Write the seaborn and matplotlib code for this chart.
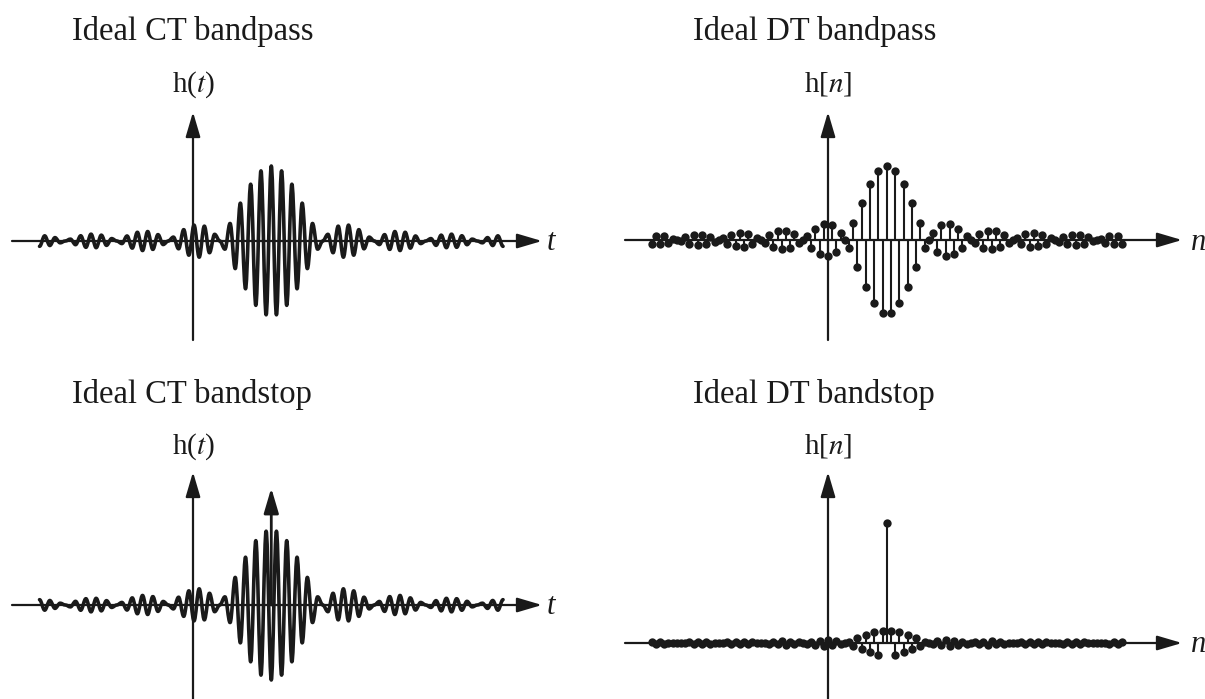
import numpy as np
import matplotlib
matplotlib.use("Agg")
import matplotlib.pyplot as plt
from matplotlib.path import Path
from matplotlib.patches import PathPatch
import seaborn as sns

# %%
# bandpass impulse response: centre sample first,
# then the samples to the right (the plot is symmetric about the centre)
bp_right = [1.000, -0.984, 0.935, -0.858, 0.757, -0.637, 0.505, -0.368, 0.234, -0.109,
            0.000, 0.089, -0.156, 0.198, -0.216, 0.212, -0.189, 0.151, -0.104, 0.052,
            0.000, -0.047, 0.085, -0.112, 0.126, -0.127, 0.116, -0.095, 0.067, -0.034,
            0.000, 0.032, -0.058, 0.078, -0.089, 0.091, -0.084, 0.070, -0.049, 0.025,
            0.000, -0.024, 0.045, -0.060, 0.069, -0.071, 0.066, -0.055, 0.039, -0.020,
            0.000, 0.019, -0.036, 0.049, -0.056, 0.058, -0.054]

dt_center = 14          # delay of the DT response (samples)
dt_values = bp_right[:0:-1] + bp_right
dt_n = np.arange(len(dt_values)) - (len(bp_right) - 1) + dt_center
dt_bs_impulse = 10.6    # bandstop = impulse - bandpass (own scale)

# CT response: one extremum per half carrier period
ct_half = 45
ct_center = 7.6         # delay in carrier periods
ct_peaks = bp_right[ct_half:0:-1] + bp_right[:ct_half + 1]
ct_t = ct_center + 0.5 * np.arange(-ct_half, ct_half + 1)
ct_bs_impulse = 1.56

titles = ["Ideal CT bandpass", "Ideal DT bandpass", "Ideal CT bandstop", "Ideal DT bandstop"]

# %%
sns.set_theme(style="white")
plt.rcParams["font.family"] = ["Liberation Serif", "DejaVu Serif"]
plt.rcParams["mathtext.fontset"] = "stix"

W, H = 1205, 699
fig = plt.figure(figsize=(W / 100, H / 100), dpi=100)
fig.patch.set_facecolor("white")


def panel(box, x0, xs, y0, ys):
    l, t, r, b = box
    ax = fig.add_axes([l / W, 1 - b / H, (r - l) / W, (b - t) / H])
    ax.set_xlim((l - x0) / xs, (r - x0) / xs)
    ax.set_ylim((y0 - b) / ys, (y0 - t) / ys)
    ax.axis("off")
    ax.px = (lambda p: (p - x0) / xs, lambda p: (y0 - p) / ys)
    return ax


def ftext(x, y, s, **kw):
    fig.text(x / W, 1 - y / H, s, **kw)


def arrow(ax, xy_from, xy_to, lw=1.6):
    ax.annotate("", xy=xy_to, xytext=xy_from,
                arrowprops=dict(arrowstyle="-|>,head_length=0.95,head_width=0.28",
                                color="k", lw=lw, mutation_scale=16,
                                shrinkA=0, shrinkB=0), annotation_clip=False)


def axes_arrows(ax, x_from, x_to, y_tip, y_end):
    fx, fy = ax.px
    arrow(ax, (fx(x_from), 0), (fx(x_to), 0))
    arrow(ax, (0, fy(y_end)), (0, fy(y_tip)))


def ct_curve(ax, t, v, sign=1):
    verts = [(t[0], sign * v[0])]
    codes = [Path.MOVETO]
    for i in range(len(t) - 1):
        a = 0.363 * (t[i + 1] - t[i])
        verts += [(t[i] + a, sign * v[i]), (t[i + 1] - a, sign * v[i + 1]),
                  (t[i + 1], sign * v[i + 1])]
        codes += [Path.CURVE4] * 3
    ax.add_patch(PathPatch(Path(verts, codes), fill=False, color="k", lw=2.6,
                           capstyle="round", joinstyle="round", zorder=3))


def dt_stems(ax, n, v):
    ax.vlines(n, 0, v, color="k", lw=1.5, zorder=2)
    sns.scatterplot(x=n, y=v, ax=ax, s=36, color="k", linewidth=0, zorder=3, legend=False)


# %% CT bandpass
ax1 = panel((0, 100, 602, 350), 193, 10.3, 241, 75)
axes_arrows(ax1, 12, 542, 112, 340)
ct_curve(ax1, ct_t, ct_peaks)

# %% CT bandstop
ax3 = panel((0, 460, 602, 699), 193, 10.3, 605, 75)
axes_arrows(ax3, 12, 542, 472, 705)
ct_curve(ax3, ct_t, ct_peaks, sign=-1)
arrow(ax3, (ct_center, 0), (ct_center, ct_bs_impulse), lw=2.0)

# %% DT bandpass
ax2 = panel((602, 100, 1205, 350), 828, 4.2, 240, 74)
axes_arrows(ax2, 625, 1182, 112, 340)
dt_stems(ax2, dt_n, dt_values)

# %% DT bandstop
dt_bs = [-v for v in dt_values]
dt_bs[list(dt_n).index(dt_center)] += dt_bs_impulse
ax4 = panel((602, 460, 1205, 699), 828, 4.2, 643, 12.5)
axes_arrows(ax4, 625, 1182, 472, 705)
dt_stems(ax4, dt_n, dt_bs)

# %% labels
tkw = dict(fontsize=23.5, ha="left", va="baseline", color="k")
ftext(72, 40, titles[0], **tkw)
ftext(693, 40, titles[1], **tkw)
ftext(72, 403, titles[2], **tkw)
ftext(693, 403, titles[3], **tkw)

lkw = dict(fontsize=21, ha="center", va="baseline", color="k")
ftext(193, 92, r"h($t$)", **lkw)
ftext(193, 454, r"h($t$)", **lkw)
ftext(828, 92, r"h[$n$]", **lkw)
ftext(828, 454, r"h[$n$]", **lkw)

akw = dict(fontsize=22, ha="left", va="center", color="k", style="italic")
ftext(547, 243, "t", **akw)
ftext(547, 607, "t", **akw)
ftext(1191, 242, "n", **akw)
ftext(1191, 645, "n", **akw)

fig.savefig("out.png", dpi=100, facecolor="white")
